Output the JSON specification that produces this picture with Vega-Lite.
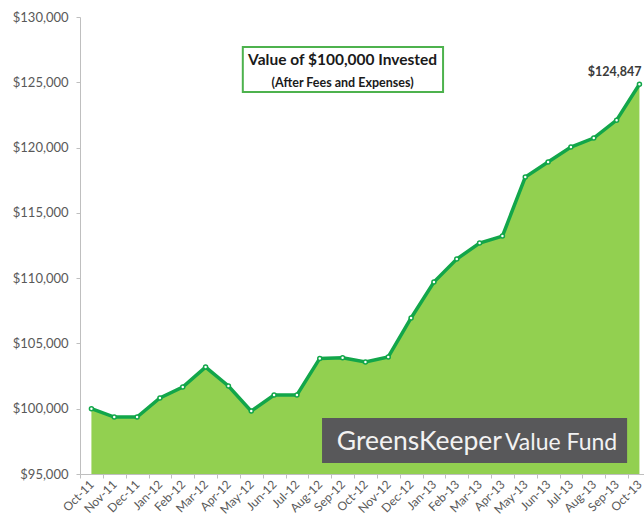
{
  "$schema": "https://vega.github.io/schema/vega-lite/v6.json",
  "width": 564,
  "height": 457,
  "autosize": {"type": "none"},
  "padding": {"left": 80, "top": 17, "right": 0, "bottom": 50},
  "background": "white",
  "config": {
    "view": {"stroke": null},
    "font": "Lato"
  },
  "datasets": {
    "fund": [
      {"i": 0, "month": "Oct-11", "value": 100000},
      {"i": 1, "month": "Nov-11", "value": 99360},
      {"i": 2, "month": "Dec-11", "value": 99360},
      {"i": 3, "month": "Jan-12", "value": 100820},
      {"i": 4, "month": "Feb-12", "value": 101660},
      {"i": 5, "month": "Mar-12", "value": 103190},
      {"i": 6, "month": "Apr-12", "value": 101740},
      {"i": 7, "month": "May-12", "value": 99820},
      {"i": 8, "month": "Jun-12", "value": 101050},
      {"i": 9, "month": "Jul-12", "value": 101050},
      {"i": 10, "month": "Aug-12", "value": 103850},
      {"i": 11, "month": "Sep-12", "value": 103900},
      {"i": 12, "month": "Oct-12", "value": 103580},
      {"i": 13, "month": "Nov-12", "value": 103960},
      {"i": 14, "month": "Dec-12", "value": 106950},
      {"i": 15, "month": "Jan-13", "value": 109700},
      {"i": 16, "month": "Feb-13", "value": 111460},
      {"i": 17, "month": "Mar-13", "value": 112690},
      {"i": 18, "month": "Apr-13", "value": 113220},
      {"i": 19, "month": "May-13", "value": 117740},
      {"i": 20, "month": "Jun-13", "value": 118890},
      {"i": 21, "month": "Jul-13", "value": 120040},
      {"i": 22, "month": "Aug-13", "value": 120730},
      {"i": 23, "month": "Sep-13", "value": 122100},
      {"i": 24, "month": "Oct-13", "value": 124847}
    ]
  },
  "encoding": {
    "x": {
      "field": "i",
      "type": "quantitative",
      "title": null,
      "scale": {"domain": [-0.5, 24.2], "nice": false, "zero": false},
      "axis": {
        "values": [0,1,2,3,4,5,6,7,8,9,10,11,12,13,14,15,16,17,18,19,20,21,22,23,24],
        "tickCount": 25,
        "labelExpr": "['Oct-11','Nov-11','Dec-11','Jan-12','Feb-12','Mar-12','Apr-12','May-12','Jun-12','Jul-12','Aug-12','Sep-12','Oct-12','Nov-12','Dec-12','Jan-13','Feb-13','Mar-13','Apr-13','May-13','Jun-13','Jul-13','Aug-13','Sep-13','Oct-13'][datum.value]",
        "labelAngle": -45,
        "labelAlign": "right",
        "labelBaseline": "middle",
        "labelOverlap": false,
        "labelSeparation": 0,
        "labelFlush": false,
        "labelBound": false,
        "labelFontSize": 12,
        "labelColor": "#595959",
        "labelPadding": 4,
        "tickOffset": -11.4,
        "labelOffset": 11.4,
        "tickSize": 4,
        "tickColor": "#BFBFBF",
        "domainColor": "#BFBFBF",
        "grid": false
      }
    },
    "y": {
      "field": "value",
      "type": "quantitative",
      "title": null,
      "scale": {"domain": [95000, 130000], "nice": false, "zero": false},
      "axis": {
        "values": [95000, 100000, 105000, 110000, 115000, 120000, 125000, 130000],
        "format": "$,.0f",
        "labelFontSize": 13,
        "labelColor": "#595959",
        "labelPadding": 8,
        "tickSize": 4,
        "tickColor": "#BFBFBF",
        "domainColor": "#BFBFBF",
        "grid": false
      }
    }
  },
  "layer": [
    {
      "data": {"name": "fund"},
      "mark": {"type": "area", "color": "#92D050", "clip": true}
    },
    {
      "data": {"name": "fund"},
      "mark": {
        "type": "line",
        "color": "#12A64A",
        "strokeWidth": 3.5,
        "point": {"filled": true, "fill": "white", "stroke": "#12A64A", "strokeWidth": 1.5, "size": 16}
      }
    },
    {
      "data": {"name": "fund"},
      "transform": [{"filter": "datum.i == 24"}],
      "mark": {"type": "text", "align": "right", "baseline": "bottom", "dy": -5, "dx": 2, "fontSize": 12.5, "fontWeight": "bold", "color": "#3A3A3A"},
      "encoding": {
        "text": {"field": "value", "type": "quantitative", "format": "$,.0f"}
      }
    },
    {
      "data": {"values": [{"i": 6.63, "i2": 15.4, "value": 127700, "value2": 124250}]},
      "mark": {"type": "rect", "fill": "white", "stroke": "#4DB24D", "strokeWidth": 2},
      "encoding": {
        "x2": {"field": "i2"},
        "y2": {"field": "value2"}
      }
    },
    {
      "data": {"values": [{"i": 11.0, "value": 126700, "text": "Value of $100,000 Invested"}]},
      "mark": {"type": "text", "align": "center", "baseline": "middle", "fontSize": 15.5, "fontWeight": "bold", "color": "#1A1A1A"},
      "encoding": {
        "text": {"field": "text"}
      }
    },
    {
      "data": {"values": [{"i": 11.0, "value": 124940, "text": "(After Fees and Expenses)"}]},
      "mark": {"type": "text", "align": "center", "baseline": "middle", "fontSize": 12.5, "fontWeight": "bold", "color": "#1A1A1A"},
      "encoding": {
        "text": {"field": "text"}
      }
    },
    {
      "data": {"values": [{"i": 10.1, "i2": 23.46, "value": 99288, "value2": 95842}]},
      "mark": {"type": "rect", "fill": "#58585A"},
      "encoding": {
        "x2": {"field": "i2"},
        "y2": {"field": "value2"}
      }
    },
    {
      "data": {"values": [{"i": 17.98, "value": 96840, "text": "GreensKeeper"}]},
      "mark": {"type": "text", "align": "right", "baseline": "alphabetic", "fontSize": 26.5, "color": "#F2F2F2"},
      "encoding": {
        "text": {"field": "text"}
      }
    },
    {
      "data": {"values": [{"i": 18.11, "value": 96840, "text": "Value Fund"}]},
      "mark": {"type": "text", "align": "left", "baseline": "alphabetic", "fontSize": 23, "color": "#F2F2F2"},
      "encoding": {
        "text": {"field": "text"}
      }
    }
  ]
}
